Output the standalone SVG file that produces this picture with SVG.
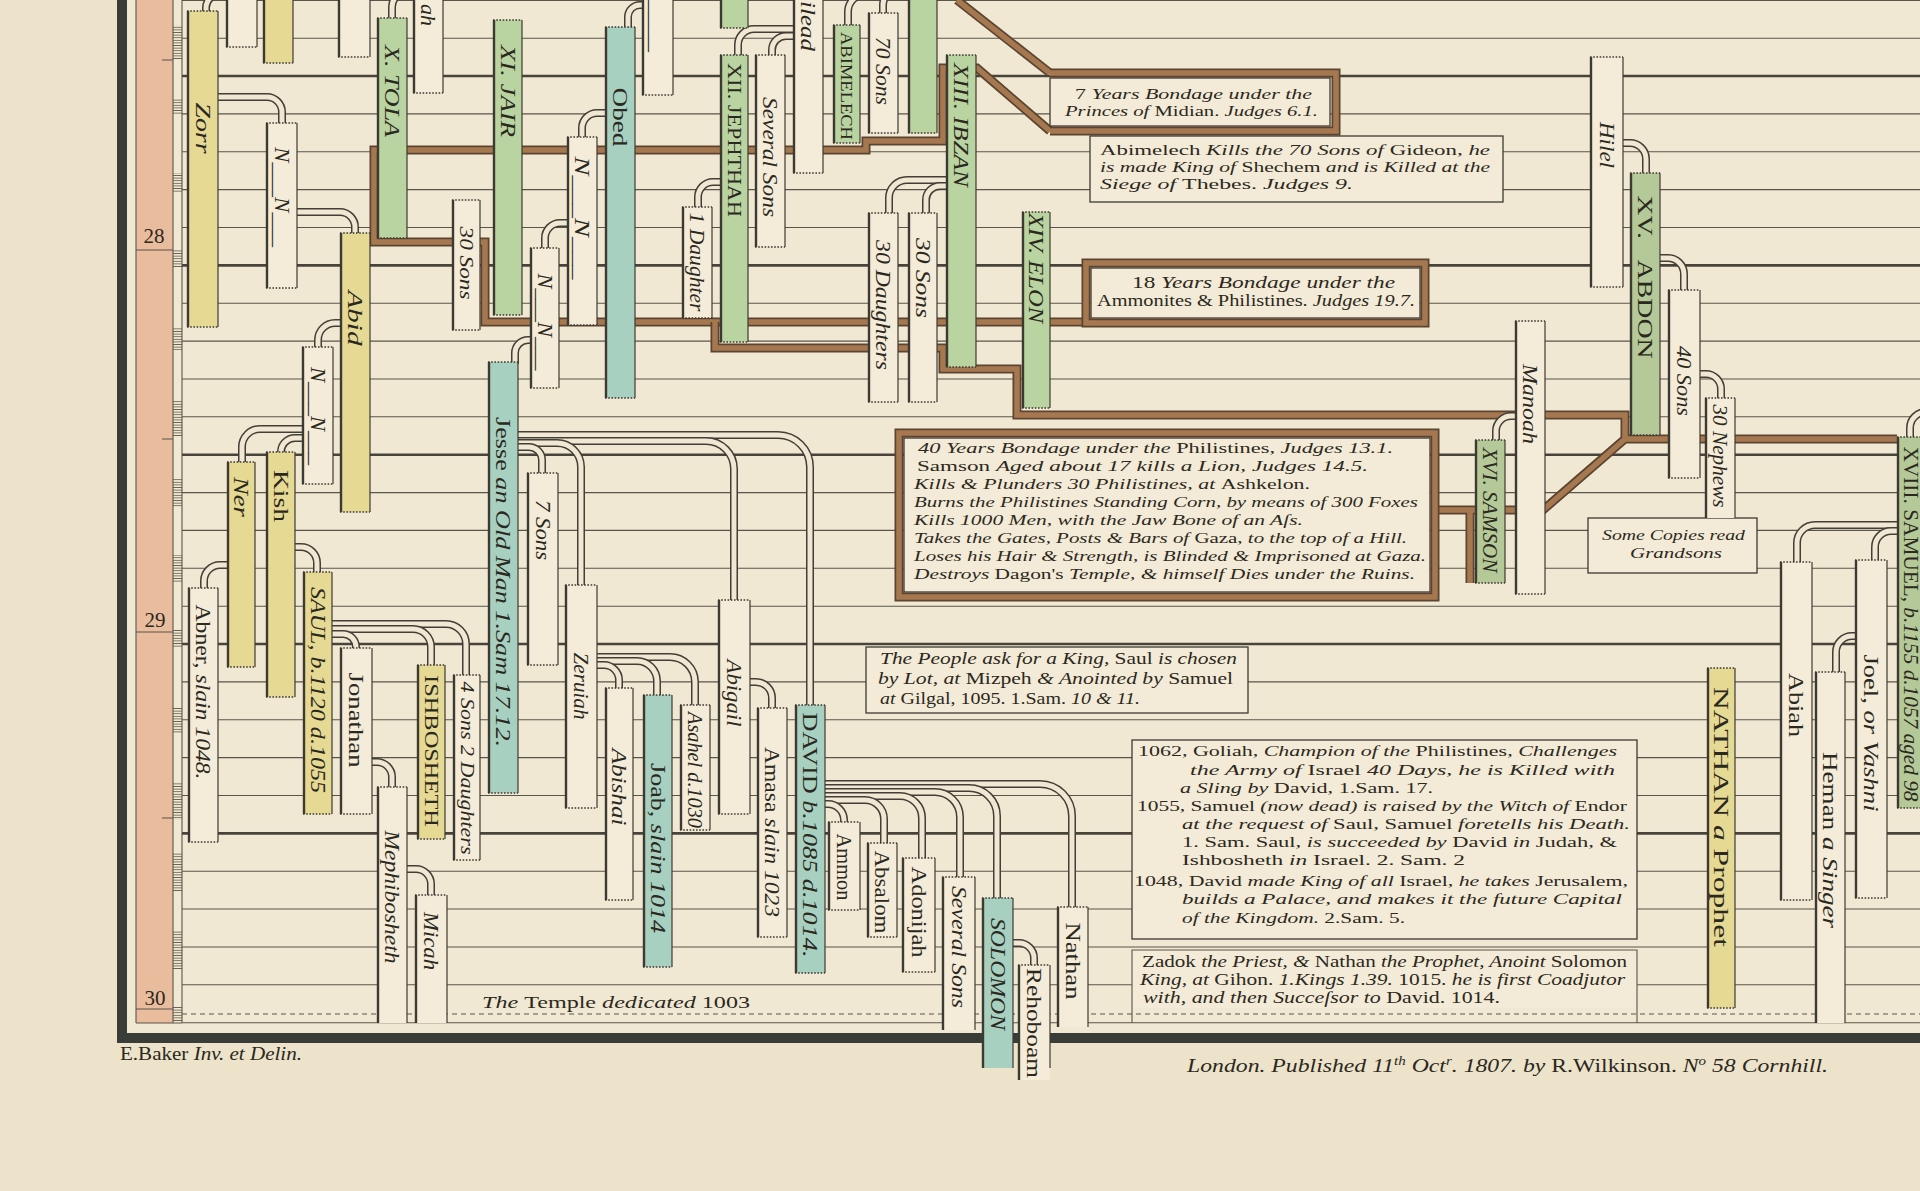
<svg xmlns="http://www.w3.org/2000/svg" width="1920" height="1191" viewBox="0 0 1920 1191">
<defs>
<style>
.t{font-family:"Liberation Serif","DejaVu Serif",serif;fill:#2b2820}
.v{font-size:20px;text-anchor:middle;dominant-baseline:central}
.s{font-size:18px}
.tb{font-size:15.5px}
.tc{font-size:16px}
.td{font-size:17px}
.i{font-style:italic}
.r{font-style:normal}
.c{fill:#f4ecd9}
.y{fill:#e5d993}
.g{fill:#bad4a1}
.o{fill:#b4c898}
.b{fill:#a8d0c0}
.e{stroke:#3d3a32;stroke-width:2.4;fill:none}
.er{stroke:#3d3a32;stroke-width:1.2;fill:none}
.dt{stroke:#3d3a32;stroke-width:1.4;stroke-dasharray:1.6 1.6;fill:none}
.ln{stroke:#5a554b;stroke-width:1.1;fill:none}
.lk{stroke:#48443b;stroke-width:2.6;fill:none}
.da{stroke:#5a554b;stroke-width:1.1;stroke-dasharray:5 4;fill:none}
.bx{fill:#f3ebd7;stroke:#3d3a32;stroke-width:1.3}
.bf{fill:#f3ebd7}
.po{fill:none;stroke:#433f37;stroke-width:8}
.pi{fill:none;stroke:#f1e8d3;stroke-width:5}
.bo{fill:none;stroke:#5b4432;stroke-width:9}
.bi{fill:none;stroke:#a67850;stroke-width:5.5}
</style>
<pattern id="hp" width="10" height="2.6" patternUnits="userSpaceOnUse"><path d="M0 1.3H10" stroke="#6d6253" stroke-width="0.9"/></pattern>
</defs>

<rect x="0" y="0" width="1920" height="1191" fill="#ede3cb"/>

<g id="frame">
<rect x="127" y="0" width="1793" height="1033" fill="#f1e8d3"/>
<rect x="136" y="0" width="37" height="1023" fill="#e9bc9e"/>
<g fill="url(#hp)">
<rect x="173" y="25" width="9" height="35"/><rect x="173" y="98" width="9" height="17"/><rect x="173" y="173" width="9" height="20"/><rect x="173" y="250" width="9" height="17"/><rect x="173" y="327" width="9" height="23"/><rect x="173" y="400" width="9" height="37"/><rect x="173" y="478" width="9" height="29"/><rect x="173" y="555" width="9" height="27"/><rect x="173" y="630" width="9" height="17"/><rect x="173" y="707" width="9" height="26"/><rect x="173" y="783" width="9" height="37"/><rect x="173" y="853" width="9" height="39"/><rect x="173" y="930" width="9" height="40"/><rect x="173" y="1007" width="9" height="15"/>
</g>
<path class="ln" d="M136 0V1023M173 0V1023M182 0V1023M136 250H173M136 632H173M136 1009H173M136 1023H182M162 60H173M162 439H173M162 818H173"/>
<text class="t" x="154" y="243" font-size="21" text-anchor="middle">28</text>
<text class="t" x="155" y="627" font-size="21" text-anchor="middle">29</text>
<text class="t" x="155" y="1005" font-size="21" text-anchor="middle">30</text>
</g>

<g id="grid">
<path class="ln" d="M182 0.5H1920M182 38.2H1920M182 113.9H1920M182 151.8H1920M182 189.6H1920M182 227.5H1920M182 303.2H1920M182 341.1H1920M182 379H1920M182 416.8H1920M182 492.6H1920M182 530.4H1920M182 568.3H1920M182 606.2H1920M182 681.9H1920M182 719.8H1920M182 757.6H1920M182 795.5H1920M182 871.2H1920M182 909H1920M182 947H1920M182 984.8H1920M182 1022.7H1920"/>
<path class="lk" d="M182 76H1920M182 265.4H1920M182 454.7H1920M182 644H1920M182 833.4H1920"/>
<path class="da" d="M182 1014H1920"/>
</g>

<path id="border" d="M122 0V1038H1920" stroke="#3a3c37" stroke-width="10" fill="none"/>

<g id="connectors">
<g id="bondage-lines">
<path class="bo" d="M957 0L1050 73M1050 131L977 68H943V141H866V150H374V242H485V322H1088"/>
<path class="bi" d="M957 0L1050 73M1050 131L977 68H943V141H866V150H374V242H485V322H1088"/>
<path class="bo" d="M715 322V348H943V369H1017V415H1625V439L1543 510H1470V583M1625 439H1897M1435 510H1470"/>
<path class="bi" d="M715 322V348H943V369H1017V415H1625V439L1543 510H1470V583M1625 439H1897M1435 510H1470"/>
</g>
</g>

<g id="n-bondage7">
<rect class="bx" x="1050" y="78" width="280" height="48"/>
<path class="bo" d="M1050 73H1336V131H1050"/><path class="bi" d="M1050 73H1336V131H1050"/>
<text class="t tb i" x="1075" y="99" textLength="237" lengthAdjust="spacingAndGlyphs"><tspan class="r">7 </tspan>Years Bondage under the</text>
<text class="t tb i" x="1065" y="116" textLength="253" lengthAdjust="spacingAndGlyphs">Princes of <tspan class="r">Midian.</tspan> Judges 6.1.</text>
</g>

<g id="n-abimelech-note">
<rect class="bx" x="1090" y="136" width="413" height="66"/>
<text class="t tb i" x="1100" y="155" textLength="390" lengthAdjust="spacingAndGlyphs"><tspan class="r">Abimelech </tspan>Kills the 70 Sons of <tspan class="r">Gideon,</tspan> he</text>
<text class="t tb i" x="1100" y="172" textLength="390" lengthAdjust="spacingAndGlyphs">is made King of <tspan class="r">Shechem </tspan>and is Killed at the</text>
<text class="t tb i" x="1100" y="189" textLength="253" lengthAdjust="spacingAndGlyphs">Siege of <tspan class="r">Thebes.</tspan> Judges 9.</text>
</g>

<g id="n-bondage18">
<rect class="bx" x="1091" y="268" width="329" height="50"/>
<path class="bo" d="M1086 263H1425V323H1086Z"/><path class="bi" d="M1086 263H1425V323H1086Z"/>
<text class="t tc i" x="1132" y="288" textLength="263" lengthAdjust="spacingAndGlyphs"><tspan class="r">18 </tspan>Years Bondage under the</text>
<text class="t tc" x="1097" y="306" textLength="318" lengthAdjust="spacingAndGlyphs">Ammonites &amp; Philistines.<tspan class="i"> Judges 19.7.</tspan></text>
</g>

<g id="n-bondage40">
<rect class="bx" x="904" y="438" width="526" height="154"/>
<path class="bo" d="M899 433H1435V597H899Z"/><path class="bi" d="M899 433H1435V597H899Z"/>
<text class="t tb i" x="918" y="453" textLength="475" lengthAdjust="spacingAndGlyphs">40 Years Bondage under the <tspan class="r">Philistines,</tspan> Judges 13.1.</text>
<text class="t tb i" x="917" y="471" textLength="451" lengthAdjust="spacingAndGlyphs"><tspan class="r">Samson </tspan>Aged about 17 kills a Lion, Judges 14.5.</text>
<text class="t tb i" x="914" y="489" textLength="396" lengthAdjust="spacingAndGlyphs">Kills &amp; Plunders 30 Philistines, at <tspan class="r">Ashkelon.</tspan></text>
<text class="t tb i" x="914" y="507" textLength="504" lengthAdjust="spacingAndGlyphs">Burns the Philistines Standing Corn, by means of 300 Foxes</text>
<text class="t tb i" x="914" y="525" textLength="389" lengthAdjust="spacingAndGlyphs">Kills 1000 Men, with the Jaw Bone of an Aſs.</text>
<text class="t tb i" x="914" y="543" textLength="493" lengthAdjust="spacingAndGlyphs">Takes the Gates, Posts &amp; Bars of <tspan class="r">Gaza,</tspan> to the top of a Hill.</text>
<text class="t tb i" x="914" y="561" textLength="512" lengthAdjust="spacingAndGlyphs">Loses his Hair &amp; Strength, is Blinded &amp; Imprisoned at Gaza.</text>
<text class="t tb i" x="914" y="579" textLength="501" lengthAdjust="spacingAndGlyphs">Destroys <tspan class="r">Dagon's </tspan>Temple, &amp; himself Dies under the Ruins.</text>
</g>

<g id="n-king-note">
<rect class="bx" x="866" y="647" width="382" height="66"/>
<text class="t td i" x="880" y="664" textLength="357" lengthAdjust="spacingAndGlyphs">The People ask for a King, <tspan class="r">Saul </tspan>is chosen</text>
<text class="t td i" x="878" y="684" textLength="355" lengthAdjust="spacingAndGlyphs">by Lot, at <tspan class="r">Mizpeh </tspan>&amp; Anointed by <tspan class="r">Samuel</tspan></text>
<text class="t td i" x="880" y="704" textLength="260" lengthAdjust="spacingAndGlyphs">at <tspan class="r">Gilgal, 1095. 1.Sam. </tspan>10 &amp; 11.</text>
</g>

<g id="n-goliah-note">
<rect class="bx" x="1132" y="740" width="505" height="199"/>
<text class="t tb" x="1138" y="756" textLength="479" lengthAdjust="spacingAndGlyphs">1062, Goliah, <tspan class="i">Champion of the </tspan>Philistines, <tspan class="i">Challenges</tspan></text>
<text class="t tb i" x="1190" y="775" textLength="425" lengthAdjust="spacingAndGlyphs">the Army of <tspan class="r">Israel </tspan>40 Days, he is Killed with</text>
<text class="t tb i" x="1180" y="793" textLength="253" lengthAdjust="spacingAndGlyphs">a Sling by <tspan class="r">David, 1.Sam. 17.</tspan></text>
<text class="t tb" x="1137" y="811" textLength="490" lengthAdjust="spacingAndGlyphs">1055, Samuel <tspan class="i">(now dead) is raised by the Witch of </tspan>Endor</text>
<text class="t tb i" x="1182" y="829" textLength="448" lengthAdjust="spacingAndGlyphs">at the request of <tspan class="r">Saul, Samuel </tspan>foretells his Death.</text>
<text class="t tb" x="1182" y="847" textLength="435" lengthAdjust="spacingAndGlyphs">1. Sam. Saul, <tspan class="i">is succeeded by </tspan>David <tspan class="i">in </tspan>Judah, &amp;</text>
<text class="t tb" x="1182" y="865" textLength="283" lengthAdjust="spacingAndGlyphs">Ishbosheth <tspan class="i">in </tspan>Israel. 2. Sam. 2</text>
<text class="t tb" x="1134" y="886" textLength="494" lengthAdjust="spacingAndGlyphs">1048, David <tspan class="i">made King of all </tspan>Israel, <tspan class="i">he takes </tspan>Jerusalem,</text>
<text class="t tb i" x="1182" y="904" textLength="440" lengthAdjust="spacingAndGlyphs">builds a Palace, and makes it the future Capital</text>
<text class="t tb i" x="1182" y="923" textLength="223" lengthAdjust="spacingAndGlyphs">of the Kingdom. <tspan class="r">2.Sam. 5.</tspan></text>
</g>

<g id="n-zadok-note">
<rect class="bf" x="1132" y="950" width="505" height="58"/>
<path class="ln" d="M1132 1023V950H1637V1023"/>
<text class="t tc" x="1142" y="967" textLength="485" lengthAdjust="spacingAndGlyphs">Zadok <tspan class="i">the Priest, &amp; </tspan>Nathan <tspan class="i">the Prophet, Anoint </tspan>Solomon</text>
<text class="t tc i" x="1140" y="985" textLength="485" lengthAdjust="spacingAndGlyphs">King, at <tspan class="r">Gihon. </tspan>1.Kings 1.39. <tspan class="r">1015. </tspan>he is first Coadjutor</text>
<text class="t tc i" x="1143" y="1003" textLength="357" lengthAdjust="spacingAndGlyphs">with, and then Succeſsor to <tspan class="r">David. 1014.</tspan></text>
</g>

<g id="n-copies-note">
<rect class="bx" x="1588" y="518" width="169" height="55"/>
<text class="t tb i" x="1602" y="540" textLength="143" lengthAdjust="spacingAndGlyphs">Some Copies read</text>
<text class="t tb i" x="1630" y="558" textLength="92" lengthAdjust="spacingAndGlyphs">Grandsons</text>
</g>

<g id="n-temple-note">
<text class="t td i" x="482" y="1008" textLength="268" lengthAdjust="spacingAndGlyphs">The <tspan class="r">Temple </tspan>dedicated <tspan class="r">1003</tspan></text>
</g>

<g id="pipes">
<path class="po" d="M228 -6H220A14 14 0 0 0 206 8V14"/><path class="pi" d="M228 -6H220A14 14 0 0 0 206 8V14"/>
<path class="po" d="M415 -8H407A15 15 0 0 0 392 7V20"/><path class="pi" d="M415 -8H407A15 15 0 0 0 392 7V20"/>
<path class="po" d="M216 97H267A15 15 0 0 1 282 112V125"/><path class="pi" d="M216 97H267A15 15 0 0 1 282 112V125"/>
<path class="po" d="M295 212H340A15 15 0 0 1 355 227V235"/><path class="pi" d="M295 212H340A15 15 0 0 1 355 227V235"/>
<path class="po" d="M342 323H335A17 17 0 0 0 318 340V349"/><path class="pi" d="M342 323H335A17 17 0 0 0 318 340V349"/>
<path class="po" d="M304 429H260A18 18 0 0 0 242 447V464"/><path class="pi" d="M304 429H260A18 18 0 0 0 242 447V464"/>
<path class="po" d="M304 438H295A14 14 0 0 0 281 452V454"/><path class="pi" d="M304 438H295A14 14 0 0 0 281 452V454"/>
<path class="po" d="M229 565H220A16 16 0 0 0 204 581V590"/><path class="pi" d="M229 565H220A16 16 0 0 0 204 581V590"/>
<path class="po" d="M293 547H301A16 16 0 0 1 317 563V574"/><path class="pi" d="M293 547H301A16 16 0 0 1 317 563V574"/>
<path class="po" d="M330 624H446A20 20 0 0 1 466 644V677"/><path class="pi" d="M330 624H446A20 20 0 0 1 466 644V677"/>
<path class="po" d="M330 629H413A18 18 0 0 1 431 647V667"/><path class="pi" d="M330 629H413A18 18 0 0 1 431 647V667"/>
<path class="po" d="M330 634H343A13 13 0 0 1 356 647V650"/><path class="pi" d="M330 634H343A13 13 0 0 1 356 647V650"/>
<path class="po" d="M370 762H377A15 15 0 0 1 392 777V789"/><path class="pi" d="M370 762H377A15 15 0 0 1 392 777V789"/>
<path class="po" d="M405 869H416A15 15 0 0 1 431 884V897"/><path class="pi" d="M405 869H416A15 15 0 0 1 431 884V897"/>
<path class="po" d="M607 113H597A15 15 0 0 0 582 128V139"/><path class="pi" d="M607 113H597A15 15 0 0 0 582 128V139"/>
<path class="po" d="M569 223H560A15 15 0 0 0 545 238V250"/><path class="pi" d="M569 223H560A15 15 0 0 0 545 238V250"/>
<path class="po" d="M532 340H528A13 13 0 0 0 515 353V364"/><path class="pi" d="M532 340H528A13 13 0 0 0 515 353V364"/>
<path class="po" d="M644 5H640A12 12 0 0 0 628 17V29"/><path class="pi" d="M644 5H640A12 12 0 0 0 628 17V29"/>
<path class="po" d="M795 29H754A16 16 0 0 0 738 45V57"/><path class="pi" d="M795 29H754A16 16 0 0 0 738 45V57"/>
<path class="po" d="M795 36H786A14 14 0 0 0 772 50V57"/><path class="pi" d="M795 36H786A14 14 0 0 0 772 50V57"/>
<path class="po" d="M722 182H713A15 15 0 0 0 698 197V209"/><path class="pi" d="M722 182H713A15 15 0 0 0 698 197V209"/>
<path class="po" d="M910 -6H866A18 18 0 0 0 848 12V27"/><path class="pi" d="M910 -6H866A18 18 0 0 0 848 12V27"/>
<path class="po" d="M910 -10H898A15 15 0 0 0 883 5V15"/><path class="pi" d="M910 -10H898A15 15 0 0 0 883 5V15"/>
<path class="po" d="M948 180H907A18 18 0 0 0 889 198V215"/><path class="pi" d="M948 180H907A18 18 0 0 0 889 198V215"/>
<path class="po" d="M948 186H940A14 14 0 0 0 926 200V215"/><path class="pi" d="M948 186H940A14 14 0 0 0 926 200V215"/>
<path class="po" d="M1621 143H1630A16 16 0 0 1 1646 159V175"/><path class="pi" d="M1621 143H1630A16 16 0 0 1 1646 159V175"/>
<path class="po" d="M1658 258H1668A16 16 0 0 1 1684 274V292"/><path class="pi" d="M1658 258H1668A16 16 0 0 1 1684 274V292"/>
<path class="po" d="M1698 374H1706A15 15 0 0 1 1721 389V400"/><path class="pi" d="M1698 374H1706A15 15 0 0 1 1721 389V400"/>
<path class="po" d="M1517 416H1511A15 15 0 0 0 1496 431V442"/><path class="pi" d="M1517 416H1511A15 15 0 0 0 1496 431V442"/>
<path class="po" d="M1899 525H1815A18 18 0 0 0 1797 543V564"/><path class="pi" d="M1899 525H1815A18 18 0 0 0 1797 543V564"/>
<path class="po" d="M1899 531H1891A16 16 0 0 0 1875 547V562"/><path class="pi" d="M1899 531H1891A16 16 0 0 0 1875 547V562"/>
<path class="po" d="M1857 636H1852A16 16 0 0 0 1836 652V674"/><path class="pi" d="M1857 636H1852A16 16 0 0 0 1836 652V674"/>
<path class="po" d="M1930 412H1926A16 16 0 0 0 1910 428V439"/><path class="pi" d="M1930 412H1926A16 16 0 0 0 1910 428V439"/>
<path class="po" d="M516 435H778A32 32 0 0 1 810 467V707"/><path class="pi" d="M516 435H778A32 32 0 0 1 810 467V707"/>
<path class="po" d="M516 441H706A28 28 0 0 1 734 469V602"/><path class="pi" d="M516 441H706A28 28 0 0 1 734 469V602"/>
<path class="po" d="M516 443H557A24 24 0 0 1 581 467V587"/><path class="pi" d="M516 443H557A24 24 0 0 1 581 467V587"/>
<path class="po" d="M516 447H529A13 13 0 0 1 542 460V475"/><path class="pi" d="M516 447H529A13 13 0 0 1 542 460V475"/>
<path class="po" d="M595 657H670A25 25 0 0 1 695 682V707"/><path class="pi" d="M595 657H670A25 25 0 0 1 695 682V707"/>
<path class="po" d="M595 661H637A20 20 0 0 1 657 681V697"/><path class="pi" d="M595 661H637A20 20 0 0 1 657 681V697"/>
<path class="po" d="M595 665H604A15 15 0 0 1 619 680V690"/><path class="pi" d="M595 665H604A15 15 0 0 1 619 680V690"/>
<path class="po" d="M748 682H756A16 16 0 0 1 772 698V710"/><path class="pi" d="M748 682H756A16 16 0 0 1 772 698V710"/>
<path class="po" d="M823 784H1040A32 32 0 0 1 1072 816V909"/><path class="pi" d="M823 784H1040A32 32 0 0 1 1072 816V909"/>
<path class="po" d="M823 788H969A28 28 0 0 1 997 816V900"/><path class="pi" d="M823 788H969A28 28 0 0 1 997 816V900"/>
<path class="po" d="M823 792H935A25 25 0 0 1 960 817V879"/><path class="pi" d="M823 792H935A25 25 0 0 1 960 817V879"/>
<path class="po" d="M823 796H900A22 22 0 0 1 922 818V860"/><path class="pi" d="M823 796H900A22 22 0 0 1 922 818V860"/>
<path class="po" d="M823 800H865A19 19 0 0 1 884 819V845"/><path class="pi" d="M823 800H865A19 19 0 0 1 884 819V845"/>
<path class="po" d="M823 804H828A16 16 0 0 1 844 820V824"/><path class="pi" d="M823 804H828A16 16 0 0 1 844 820V824"/>
<path class="po" d="M1011 943H1019A15 15 0 0 1 1034 958V967"/><path class="pi" d="M1011 943H1019A15 15 0 0 1 1034 958V967"/>
</g>

<g id="nodes">
<g id="n-b1"><rect class="c" x="226" y="-2" width="31" height="49"/><path class="e" d="M227 -2V47"/><path class="er" d="M257 -2V47"/><path class="dt" d="M226 47H257"/></g>
<g id="n-b2"><rect class="y" x="263" y="-2" width="30" height="65"/><path class="e" d="M264 -2V63"/><path class="er" d="M293 -2V63"/><path class="dt" d="M263 63H293"/></g>
<g id="n-b3"><rect class="c" x="338" y="-2" width="32" height="59"/><path class="e" d="M339 -2V57"/><path class="er" d="M370 -2V57"/><path class="dt" d="M338 57H370"/></g>
<g id="n-b4"><rect class="c" x="413" y="-2" width="30" height="95"/><path class="e" d="M414 -2V93"/><path class="er" d="M443 -2V93"/><path class="dt" d="M413 93H443"/><text class="t v i" transform="translate(428 15) rotate(90)" textLength="22" lengthAdjust="spacingAndGlyphs">ah</text></g>
<g id="n-zorr"><rect class="y" x="187" y="11" width="31" height="316"/><path class="e" d="M188 11V327"/><path class="er" d="M218 11V327"/><path class="dt" d="M187 11H218M187 327H218"/><text class="t v i" transform="translate(202.5 128) rotate(90)" textLength="51" lengthAdjust="spacingAndGlyphs">Zorr</text></g>
<g id="n-tola"><rect class="g" x="377" y="18" width="30" height="220"/><path class="e" d="M378 18V238"/><path class="er" d="M407 18V238"/><path class="dt" d="M377 18H407M377 238H407"/><text class="t v i" transform="translate(392 91) rotate(90)" textLength="92" lengthAdjust="spacingAndGlyphs">X. TOLA</text></g>
<g id="n-nn1"><rect class="c" x="266" y="123" width="31" height="165"/><path class="e" d="M267 123V288"/><path class="er" d="M297 123V288"/><path class="dt" d="M266 123H297M266 288H297"/><text class="t v i" transform="translate(281.5 197) rotate(90)" textLength="100" lengthAdjust="spacingAndGlyphs">N___N___</text></g>
<g id="n-sons30a"><rect class="c" x="452" y="200" width="28" height="130"/><path class="e" d="M453 200V330"/><path class="er" d="M480 200V330"/><path class="dt" d="M452 200H480M452 330H480"/><text class="t v i s" transform="translate(466 263) rotate(90)" textLength="73" lengthAdjust="spacingAndGlyphs">30 Sons</text></g>
<g id="n-abid"><rect class="y" x="340" y="233" width="30" height="279"/><path class="e" d="M341 233V512"/><path class="er" d="M370 233V512"/><path class="dt" d="M340 233H370M340 512H370"/><text class="t v i" transform="translate(355 318) rotate(90)" textLength="55" lengthAdjust="spacingAndGlyphs">Abid</text></g>
<g id="n-nn2"><rect class="c" x="302" y="347" width="31" height="137"/><path class="e" d="M303 347V484"/><path class="er" d="M333 347V484"/><path class="dt" d="M302 347H333M302 484H333"/><text class="t v i" transform="translate(317.5 416) rotate(90)" textLength="98" lengthAdjust="spacingAndGlyphs">N___N___</text></g>
<g id="n-jair"><rect class="g" x="493" y="20" width="29" height="295"/><path class="e" d="M494 20V315"/><path class="er" d="M522 20V315"/><path class="dt" d="M493 20H522M493 315H522"/><text class="t v i" transform="translate(507.5 91) rotate(90)" textLength="92" lengthAdjust="spacingAndGlyphs">XI. JAIR</text></g>
<g id="n-b12"><rect class="c" x="642" y="-2" width="31" height="97"/><path class="e" d="M643 -2V95"/><path class="er" d="M673 -2V95"/><path class="dt" d="M642 95H673"/><text class="t v i" transform="translate(657.5 26) rotate(90)" textLength="52" lengthAdjust="spacingAndGlyphs">____</text></g>
<g id="n-nn3"><rect class="c" x="567" y="137" width="30" height="188"/><path class="e" d="M568 137V325"/><path class="er" d="M597 137V325"/><path class="dt" d="M567 137H597M567 325H597"/><text class="t v i" transform="translate(582 218) rotate(90)" textLength="123" lengthAdjust="spacingAndGlyphs">N___N___</text></g>
<g id="n-nn4"><rect class="c" x="530" y="248" width="29" height="140"/><path class="e" d="M531 248V388"/><path class="er" d="M559 248V388"/><path class="dt" d="M530 248H559M530 388H559"/><text class="t v i" transform="translate(544.5 322) rotate(90)" textLength="97" lengthAdjust="spacingAndGlyphs">N___N___</text></g>
<g id="n-obed"><rect class="b" x="605" y="27" width="30" height="371"/><path class="e" d="M606 27V398"/><path class="er" d="M635 27V398"/><path class="dt" d="M605 27H635M605 398H635"/><text class="t v" transform="translate(620 117) rotate(90)" textLength="59" lengthAdjust="spacingAndGlyphs">Obed</text></g>
<g id="n-b16"><rect class="g" x="720" y="-2" width="28" height="30"/><path class="e" d="M721 -2V28"/><path class="er" d="M748 -2V28"/><path class="dt" d="M720 28H748"/></g>
<g id="n-jephthah"><rect class="g" x="720" y="55" width="28" height="287"/><path class="e" d="M721 55V342"/><path class="er" d="M748 55V342"/><path class="dt" d="M720 55H748M720 342H748"/><text class="t v s" transform="translate(734 140) rotate(90)" textLength="154" lengthAdjust="spacingAndGlyphs">XII. JEPHTHAH</text></g>
<g id="n-sevsons1"><rect class="c" x="755" y="55" width="30" height="192"/><path class="e" d="M756 55V247"/><path class="er" d="M785 55V247"/><path class="dt" d="M755 55H785M755 247H785"/><text class="t v i" transform="translate(770 157) rotate(90)" textLength="120" lengthAdjust="spacingAndGlyphs">Several Sons</text></g>
<g id="n-gilead"><rect class="c" x="793" y="-2" width="30" height="175"/><path class="e" d="M794 -2V173"/><path class="er" d="M823 -2V173"/><path class="dt" d="M793 173H823"/><text class="t v i" transform="translate(808 26) rotate(90)" textLength="50" lengthAdjust="spacingAndGlyphs">ilead</text></g>
<g id="n-daughter1"><rect class="c" x="682" y="207" width="30" height="111"/><path class="e" d="M683 207V318"/><path class="er" d="M712 207V318"/><path class="dt" d="M682 207H712M682 318H712"/><text class="t v i" transform="translate(697 262) rotate(90)" textLength="99" lengthAdjust="spacingAndGlyphs">1 Daughter</text></g>
<g id="n-abimelech"><rect class="g" x="833" y="25" width="27" height="118"/><path class="e" d="M834 25V143"/><path class="er" d="M860 25V143"/><path class="dt" d="M833 25H860M833 143H860"/><text class="t v" style="font-size:17px" transform="translate(846.5 86) rotate(90)" textLength="108" lengthAdjust="spacingAndGlyphs">ABIMELECH</text></g>
<g id="n-sons70"><rect class="c" x="868" y="13" width="30" height="120"/><path class="e" d="M869 13V133"/><path class="er" d="M898 13V133"/><path class="dt" d="M868 13H898M868 133H898"/><text class="t v i" transform="translate(883 71) rotate(90)" textLength="68" lengthAdjust="spacingAndGlyphs">70 Sons</text></g>
<g id="n-gideon"><rect class="g" x="908" y="-2" width="29" height="135"/><path class="e" d="M909 -2V133"/><path class="er" d="M937 -2V133"/><path class="dt" d="M908 133H937"/></g>
<g id="n-ibzan"><rect class="g" x="946" y="55" width="30" height="312"/><path class="e" d="M947 55V367"/><path class="er" d="M976 55V367"/><path class="dt" d="M946 55H976M946 367H976"/><text class="t v i" transform="translate(961 125) rotate(90)" textLength="124" lengthAdjust="spacingAndGlyphs">XIII. IBZAN</text></g>
<g id="n-daughters30"><rect class="c" x="868" y="213" width="30" height="189"/><path class="e" d="M869 213V402"/><path class="er" d="M898 213V402"/><path class="dt" d="M868 213H898M868 402H898"/><text class="t v i" transform="translate(883 305) rotate(90)" textLength="130" lengthAdjust="spacingAndGlyphs">30 Daughters</text></g>
<g id="n-sons30b"><rect class="c" x="908" y="213" width="29" height="189"/><path class="e" d="M909 213V402"/><path class="er" d="M937 213V402"/><path class="dt" d="M908 213H937M908 402H937"/><text class="t v i" transform="translate(922.5 278) rotate(90)" textLength="80" lengthAdjust="spacingAndGlyphs">30 Sons</text></g>
<g id="n-elon"><rect class="g" x="1022" y="212" width="28" height="196"/><path class="e" d="M1023 212V408"/><path class="er" d="M1050 212V408"/><path class="dt" d="M1022 212H1050M1022 408H1050"/><text class="t v i" transform="translate(1036 268) rotate(90)" textLength="110" lengthAdjust="spacingAndGlyphs">XIV. ELON</text></g>
<g id="n-hilel"><rect class="c" x="1590" y="57" width="33" height="230"/><path class="e" d="M1591 57V287"/><path class="er" d="M1623 57V287"/><path class="dt" d="M1590 57H1623M1590 287H1623"/><text class="t v i" transform="translate(1606.5 145) rotate(90)" textLength="46" lengthAdjust="spacingAndGlyphs">Hilel</text></g>
<g id="n-abdon"><rect class="o" x="1630" y="173" width="30" height="262"/><path class="e" d="M1631 173V435"/><path class="er" d="M1660 173V435"/><path class="dt" d="M1630 173H1660M1630 435H1660"/><text class="t v" transform="translate(1645 277) rotate(90)" textLength="163" lengthAdjust="spacingAndGlyphs">XV.&#160;&#160;&#160;ABDON</text></g>
<g id="n-sons40"><rect class="c" x="1668" y="290" width="32" height="188"/><path class="e" d="M1669 290V478"/><path class="er" d="M1700 290V478"/><path class="dt" d="M1668 290H1700M1668 478H1700"/><text class="t v i" transform="translate(1684 381) rotate(90)" textLength="70" lengthAdjust="spacingAndGlyphs">40 Sons</text></g>
<g id="n-nephews30"><rect class="c" x="1705" y="398" width="30" height="120"/><path class="e" d="M1706 398V518"/><path class="er" d="M1735 398V518"/><path class="dt" d="M1705 398H1735"/><text class="t v i" transform="translate(1720 456) rotate(90)" textLength="103" lengthAdjust="spacingAndGlyphs">30 Nephews</text></g>
<g id="n-manoah"><rect class="c" x="1515" y="321" width="30" height="273"/><path class="e" d="M1516 321V594"/><path class="er" d="M1545 321V594"/><path class="dt" d="M1515 321H1545M1515 594H1545"/><text class="t v i" transform="translate(1530 404) rotate(90)" textLength="80" lengthAdjust="spacingAndGlyphs">Manoah</text></g>
<g id="n-samson"><rect class="o" x="1475" y="440" width="30" height="143"/><path class="e" d="M1476 440V583"/><path class="er" d="M1505 440V583"/><path class="dt" d="M1475 440H1505M1475 583H1505"/><text class="t v i" transform="translate(1490 510) rotate(90)" textLength="125" lengthAdjust="spacingAndGlyphs">XVI. SAMSON</text></g>
<g id="n-samuel"><rect class="o" x="1897" y="437" width="30" height="371"/><path class="e" d="M1898 437V808"/><path class="dt" d="M1897 437H1927M1897 808H1927"/><text class="t v" transform="translate(1911 624) rotate(90)" textLength="355" lengthAdjust="spacingAndGlyphs">XVIII. SAMUEL, <tspan class="i">b.1155 d.1057 aged 98</tspan></text></g>
<g id="n-abiah"><rect class="c" x="1780" y="562" width="32" height="338"/><path class="e" d="M1781 562V900"/><path class="er" d="M1812 562V900"/><path class="dt" d="M1780 562H1812M1780 900H1812"/><text class="t v" transform="translate(1796 705) rotate(90)" textLength="64" lengthAdjust="spacingAndGlyphs">Abiah</text></g>
<g id="n-joel"><rect class="c" x="1855" y="560" width="32" height="338"/><path class="e" d="M1856 560V898"/><path class="er" d="M1887 560V898"/><path class="dt" d="M1855 560H1887M1855 898H1887"/><text class="t v" transform="translate(1871 733) rotate(90)" textLength="157" lengthAdjust="spacingAndGlyphs">Joel, <tspan class="i">or Vashni</tspan></text></g>
<g id="n-heman"><rect class="c" x="1815" y="672" width="30" height="351"/><path class="e" d="M1816 672V1023"/><path class="er" d="M1845 672V1023"/><path class="dt" d="M1815 672H1845"/><text class="t v" transform="translate(1830 840) rotate(90)" textLength="176" lengthAdjust="spacingAndGlyphs">Heman <tspan class="i">a Singer</tspan></text></g>
<g id="n-nathan-prophet"><rect class="y" x="1707" y="668" width="28" height="340"/><path class="e" d="M1708 668V1008"/><path class="er" d="M1735 668V1008"/><path class="dt" d="M1707 668H1735M1707 1008H1735"/><text class="t v" transform="translate(1721 817) rotate(90)" textLength="260" lengthAdjust="spacingAndGlyphs">NATHAN <tspan class="i">a</tspan> Prophet</text></g>
<g id="n-ner"><rect class="y" x="227" y="462" width="28" height="205"/><path class="e" d="M228 462V667"/><path class="er" d="M255 462V667"/><path class="dt" d="M227 462H255M227 667H255"/><text class="t v i" transform="translate(241 497) rotate(90)" textLength="40" lengthAdjust="spacingAndGlyphs">Ner</text></g>
<g id="n-kish"><rect class="y" x="266" y="452" width="29" height="245"/><path class="e" d="M267 452V697"/><path class="er" d="M295 452V697"/><path class="dt" d="M266 452H295M266 697H295"/><text class="t v" transform="translate(280.5 496) rotate(90)" textLength="52" lengthAdjust="spacingAndGlyphs">Kish</text></g>
<g id="n-abner"><rect class="c" x="188" y="588" width="30" height="254"/><path class="e" d="M189 588V842"/><path class="er" d="M218 588V842"/><path class="dt" d="M188 588H218M188 842H218"/><text class="t v" transform="translate(203 692) rotate(90)" textLength="175" lengthAdjust="spacingAndGlyphs">Abner, <tspan class="i">slain 1048.</tspan></text></g>
<g id="n-saul"><rect class="y" x="303" y="572" width="29" height="242"/><path class="e" d="M304 572V814"/><path class="er" d="M332 572V814"/><path class="dt" d="M303 572H332M303 814H332"/><text class="t v i" transform="translate(317.5 690) rotate(90)" textLength="206" lengthAdjust="spacingAndGlyphs">SAUL, b.1120 d.1055</text></g>
<g id="n-jonathan"><rect class="c" x="340" y="648" width="32" height="166"/><path class="e" d="M341 648V814"/><path class="er" d="M372 648V814"/><path class="dt" d="M340 648H372M340 814H372"/><text class="t v" transform="translate(356 720) rotate(90)" textLength="95" lengthAdjust="spacingAndGlyphs">Jonathan</text></g>
<g id="n-ishbosheth"><rect class="y" x="417" y="665" width="28" height="174"/><path class="e" d="M418 665V839"/><path class="er" d="M445 665V839"/><path class="dt" d="M417 665H445M417 839H445"/><text class="t v s" transform="translate(431 751) rotate(90)" textLength="152" lengthAdjust="spacingAndGlyphs">ISHBOSHETH</text></g>
<g id="n-sons4"><rect class="c" x="453" y="675" width="27" height="185"/><path class="e" d="M454 675V860"/><path class="er" d="M480 675V860"/><path class="dt" d="M453 675H480M453 860H480"/><text class="t v i s" transform="translate(466.5 768) rotate(90)" textLength="173" lengthAdjust="spacingAndGlyphs">4 Sons 2 Daughters</text></g>
<g id="n-mephibosheth"><rect class="c" x="377" y="787" width="30" height="236"/><path class="e" d="M378 787V1023"/><path class="er" d="M407 787V1023"/><path class="dt" d="M377 787H407"/><text class="t v i" transform="translate(392 897) rotate(90)" textLength="133" lengthAdjust="spacingAndGlyphs">Mephibosheth</text></g>
<g id="n-micah"><rect class="c" x="415" y="895" width="32" height="128"/><path class="e" d="M416 895V1023"/><path class="er" d="M447 895V1023"/><path class="dt" d="M415 895H447"/><text class="t v i" transform="translate(431 941) rotate(90)" textLength="58" lengthAdjust="spacingAndGlyphs">Micah</text></g>
<g id="n-jesse"><rect class="b" x="488" y="362" width="30" height="431"/><path class="e" d="M489 362V793"/><path class="er" d="M518 362V793"/><path class="dt" d="M488 362H518M488 793H518"/><text class="t v" transform="translate(503 582) rotate(90)" textLength="330" lengthAdjust="spacingAndGlyphs">Jesse <tspan class="i">an Old Man 1.Sam 17.12.</tspan></text></g>
<g id="n-sons7"><rect class="c" x="527" y="473" width="31" height="192"/><path class="e" d="M528 473V665"/><path class="er" d="M558 473V665"/><path class="dt" d="M527 473H558M527 665H558"/><text class="t v i" transform="translate(542.5 530) rotate(90)" textLength="60" lengthAdjust="spacingAndGlyphs">7 Sons</text></g>
<g id="n-zeruiah"><rect class="c" x="565" y="585" width="32" height="223"/><path class="e" d="M566 585V808"/><path class="er" d="M597 585V808"/><path class="dt" d="M565 585H597M565 808H597"/><text class="t v i" transform="translate(581 686) rotate(90)" textLength="67" lengthAdjust="spacingAndGlyphs">Zeruiah</text></g>
<g id="n-abigail"><rect class="c" x="718" y="600" width="32" height="214"/><path class="e" d="M719 600V814"/><path class="er" d="M750 600V814"/><path class="dt" d="M718 600H750M718 814H750"/><text class="t v i" transform="translate(734 693) rotate(90)" textLength="67" lengthAdjust="spacingAndGlyphs">Abigail</text></g>
<g id="n-david"><rect class="b" x="795" y="705" width="30" height="268"/><path class="e" d="M796 705V973"/><path class="er" d="M825 705V973"/><path class="dt" d="M795 705H825M795 973H825"/><text class="t v" transform="translate(810 835) rotate(90)" textLength="245" lengthAdjust="spacingAndGlyphs">DAVID <tspan class="i">b.1085 d.1014.</tspan></text></g>
<g id="n-amasa"><rect class="c" x="757" y="708" width="30" height="229"/><path class="e" d="M758 708V937"/><path class="er" d="M787 708V937"/><path class="dt" d="M757 708H787M757 937H787"/><text class="t v" transform="translate(772 832) rotate(90)" textLength="170" lengthAdjust="spacingAndGlyphs">Amasa <tspan class="i">slain 1023</tspan></text></g>
<g id="n-abishai"><rect class="c" x="605" y="688" width="28" height="212"/><path class="e" d="M606 688V900"/><path class="er" d="M633 688V900"/><path class="dt" d="M605 688H633M605 900H633"/><text class="t v i" transform="translate(619 787) rotate(90)" textLength="77" lengthAdjust="spacingAndGlyphs">Abishai</text></g>
<g id="n-joab"><rect class="b" x="643" y="695" width="29" height="272"/><path class="e" d="M644 695V967"/><path class="er" d="M672 695V967"/><path class="dt" d="M643 695H672M643 967H672"/><text class="t v" transform="translate(657.5 848) rotate(90)" textLength="170" lengthAdjust="spacingAndGlyphs">Joab, <tspan class="i">slain 1014</tspan></text></g>
<g id="n-asahel"><rect class="c" x="680" y="705" width="30" height="125"/><path class="e" d="M681 705V830"/><path class="er" d="M710 705V830"/><path class="dt" d="M680 705H710M680 830H710"/><text class="t v i" transform="translate(695 770) rotate(90)" textLength="116" lengthAdjust="spacingAndGlyphs">Asahel d.1030</text></g>
<g id="n-ammon"><rect class="c" x="828" y="822" width="32" height="88"/><path class="e" d="M829 822V910"/><path class="er" d="M860 822V910"/><path class="dt" d="M828 822H860M828 910H860"/><text class="t v" transform="translate(844 867) rotate(90)" textLength="67" lengthAdjust="spacingAndGlyphs">Ammon</text></g>
<g id="n-absalom"><rect class="c" x="867" y="843" width="30" height="94"/><path class="e" d="M868 843V937"/><path class="er" d="M897 843V937"/><path class="dt" d="M867 843H897M867 937H897"/><text class="t v" transform="translate(882 892) rotate(90)" textLength="83" lengthAdjust="spacingAndGlyphs">Absalom</text></g>
<g id="n-adonijah"><rect class="c" x="902" y="858" width="33" height="114"/><path class="e" d="M903 858V972"/><path class="er" d="M935 858V972"/><path class="dt" d="M902 858H935M902 972H935"/><text class="t v" transform="translate(918.5 912) rotate(90)" textLength="91" lengthAdjust="spacingAndGlyphs">Adonijah</text></g>
<g id="n-sevsons2"><rect class="c" x="942" y="877" width="33" height="153"/><path class="e" d="M943 877V1030"/><path class="er" d="M975 877V1030"/><path class="dt" d="M942 877H975"/><text class="t v i" transform="translate(958.5 947) rotate(90)" textLength="122" lengthAdjust="spacingAndGlyphs">Several Sons</text></g>
<g id="n-solomon"><rect class="b" x="982" y="898" width="31" height="170"/><path class="e" d="M983 898V1068"/><path class="er" d="M1013 898V1068"/><path class="dt" d="M982 898H1013"/><text class="t v i" transform="translate(997.5 974) rotate(90)" textLength="112" lengthAdjust="spacingAndGlyphs">SOLOMON</text></g>
<g id="n-rehoboam"><rect class="c" x="1018" y="965" width="32" height="115"/><path class="e" d="M1019 965V1080"/><path class="er" d="M1050 965V1068"/><path class="dt" d="M1018 965H1050"/><text class="t v" transform="translate(1034 1023) rotate(90)" textLength="110" lengthAdjust="spacingAndGlyphs">Rehoboam</text></g>
<g id="n-nathan"><rect class="c" x="1057" y="907" width="31" height="120"/><path class="e" d="M1058 907V1027"/><path class="er" d="M1088 907V1027"/><path class="dt" d="M1057 907H1088"/><text class="t v" transform="translate(1072.5 961) rotate(90)" textLength="77" lengthAdjust="spacingAndGlyphs">Nathan</text></g>
</g>

<g id="imprint">
<text class="t" x="120" y="1060" font-size="18" textLength="182" lengthAdjust="spacingAndGlyphs">E.Baker <tspan class="i">Inv. et Delin.</tspan></text>
<text class="t i" x="1187" y="1072" font-size="19" textLength="641" lengthAdjust="spacingAndGlyphs">London. Published 11<tspan dy="-7" font-size="12">th</tspan><tspan dy="7"> Oct</tspan><tspan dy="-7" font-size="12">r</tspan><tspan dy="7">. 1807. by </tspan><tspan class="r">R.Wilkinson.</tspan> N<tspan dy="-7" font-size="12">o</tspan><tspan dy="7"> 58 Cornhill.</tspan></text>
</g>
</svg>
